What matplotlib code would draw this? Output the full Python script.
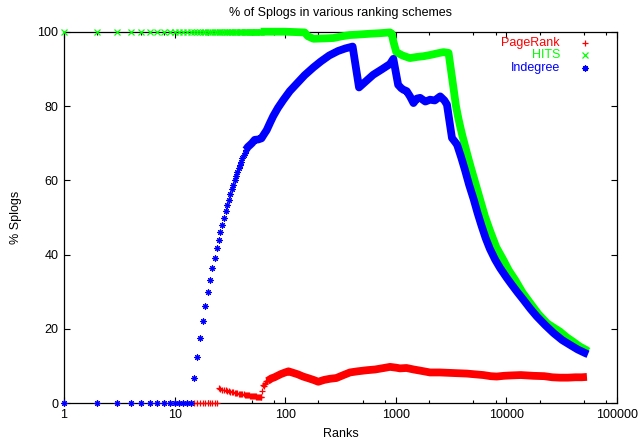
import matplotlib
matplotlib.use("Agg")
import matplotlib.pyplot as plt
from matplotlib.ticker import FixedLocator, NullFormatter

plt.rcParams['font.family'] = ['Liberation Sans', 'DejaVu Sans']

# ---------------- data ----------------
# PageRank: individual early ranks (markers) and dense sampled part
pr_early_rank = list(range(1, 70))
pr_early_val = [0.0] * 24 + [
    4.00, 3.85, 3.70, 3.57, 3.45, 3.33, 3.23, 3.13, 3.03, 2.94,
    2.86, 2.78, 2.70, 2.63, 2.56, 2.50, 2.44, 2.38, 2.33, 2.27,
    2.22, 2.17, 2.13, 2.08, 2.04, 2.00, 1.96, 1.92, 1.89, 1.85,
    1.82, 1.79, 1.75, 1.72, 1.69, 1.67, 1.64,
    3.2, 4.8, 4.7, 5.4, 5.3, 6.0, 5.9, 6.0]
pr_rank = [69, 75, 80, 85, 92, 100, 107, 118, 130, 145, 160, 180, 199, 225,
           254, 290, 330, 385, 450, 546, 650, 780, 887, 1000, 1090, 1250,
           1450, 1655, 2040, 2500, 3000, 3600, 4375, 5200, 6200, 7200, 8170,
           9500, 11000, 13500, 17500, 22000, 26000, 30500, 36000, 42000,
           48000, 53500]
pr_val = [6.0, 6.7, 7.0, 7.4, 7.9, 8.3, 8.6, 8.2, 7.8, 7.2, 6.8, 6.3, 5.8, 6.3,
          6.6, 6.8, 7.5, 8.3, 8.6, 8.9, 9.1, 9.5, 9.8, 9.6, 9.4, 9.5,
          9.1, 8.8, 8.3, 8.3, 8.2, 8.1, 8.0, 7.8, 7.6, 7.3, 7.2,
          7.4, 7.5, 7.6, 7.4, 7.3, 7.0, 6.9, 6.9, 7.0,
          7.0, 7.1]

# HITS
hits_early_rank = list(range(1, 61))
hits_early_val = [100.0] * 60
hits_rank = [60, 100, 150, 160, 180, 230, 273, 330, 385, 443, 550, 720, 886,
             920, 950, 1010, 1150, 1340, 1550, 1780, 2100, 2400, 2700, 3000,
             3300, 3500, 3660, 3820, 4000, 4250, 4520, 4800, 5100, 5450, 5800,
             6400, 7080, 8100, 9380, 10500, 12000, 14000, 16500, 19500, 23400,
             27000, 30500, 35000, 40000, 46000, 53000, 54700]
hits_val = [100.0, 100.0, 99.8, 98.8, 98.1, 98.2, 98.3, 98.8, 99.1, 99.2, 99.4,
            99.6, 99.8, 99.5, 97.4, 94.5, 93.6, 92.9, 93.2, 93.4, 93.8, 94.2,
            94.5, 94.3, 85.5, 80.0, 77.0, 74.5, 72.0, 69.0, 66.0, 63.2, 60.5,
            57.5, 54.7, 50.3, 46.6, 42.0, 38.6, 35.8, 33.2, 29.8, 26.9, 24.0,
            21.5, 20.3, 19.3, 17.8, 16.6, 15.3, 14.3, 14.0]

# Indegree
ind_early_rank = list(range(1, 45))
ind_early_val = [0.0] * 14 + [
    6.7, 12.5, 17.6, 22.2, 26.3, 30.0, 33.3, 36.4, 39.1, 41.7,
    44.0, 46.2, 48.1, 50.0, 51.7, 53.3, 54.8, 56.3, 57.6, 58.8,
    60.0, 61.1, 62.2, 63.2, 64.1, 65.0, 65.9, 66.7, 67.4, 68.2]
ind_rank = [44, 46, 48, 50, 53, 57, 61, 64, 68, 73, 78, 86, 96, 110, 127, 150,
            180, 210, 250, 300, 350, 407, 465, 520, 624, 750, 886, 950, 1050,
            1120, 1170, 1255, 1350, 1445, 1550, 1660, 1850, 2040, 2250, 2520,
            2750, 2900, 3070, 3220, 3440, 3580, 3900, 4220, 4600, 5060, 5500,
            5970, 6500, 7080, 7900, 8770, 10000, 11000, 12500, 14300, 16500,
            18800, 22500, 26700, 32000, 37700, 44000, 51700, 54700]
ind_val = [68.2, 69.0, 69.5, 70.0, 70.9, 71.0, 71.3, 72.3, 73.5, 75.5, 77.3,
           79.5, 81.6, 84.0, 86.0, 88.3, 90.4, 92.0, 93.6, 94.8, 95.5, 96.0,
           85.0, 86.3, 88.4, 89.9, 91.3, 92.7, 85.7, 84.8, 84.4, 84.0, 82.5,
           80.8, 82.0, 82.2, 81.2, 81.7, 81.5, 82.6, 81.5, 80.4, 75.5, 71.4,
           70.3, 69.6, 66.2, 62.8, 58.8, 54.9, 51.1, 47.7, 44.4, 41.6, 38.7,
           36.4, 33.9, 32.2, 30.0, 27.8, 25.4, 23.4, 21.0, 18.9, 17.0, 15.7,
           14.5, 13.5, 13.2]

labels = ["PageRank", "HITS", "Indegree"]
colors = ["#ff0000", "#00ff00", "#0000ff"]
x_ticks = [1, 10, 100, 1000, 10000, 100000]
y_ticks = [0, 20, 40, 60, 80, 100]

# ---------------- figure ----------------
fig = plt.figure(figsize=(6.41, 4.43), dpi=100)
ax = fig.add_axes([64 / 641, 1 - 403.3 / 443, 553 / 641, 371.6 / 443])

star = (8, 2, 0)
ms = 4.4
lw_band = 5.6
fs = 9

ax.plot(pr_early_rank, pr_early_val, ls='none', marker='+', ms=ms, mew=0.9,
        color=colors[0], clip_on=False, zorder=3)
ax.plot(pr_rank, pr_val, color=colors[0], lw=lw_band, solid_joinstyle='round',
        solid_capstyle='butt', zorder=3)

ax.plot(hits_early_rank, hits_early_val, ls='none', marker='x', ms=ms * 0.85,
        mew=0.9, color=colors[1], clip_on=False, zorder=4)
ax.plot(hits_rank, hits_val, color=colors[1], lw=lw_band, solid_joinstyle='round',
        solid_capstyle='butt', zorder=4, clip_on=False)

ax.plot(ind_early_rank, ind_early_val, ls='none', marker=star, ms=ms, mew=0.8,
        color=colors[2], clip_on=False, zorder=5)
ax.plot(ind_rank, ind_val, color=colors[2], lw=lw_band, solid_joinstyle='round',
        solid_capstyle='butt', zorder=5)

ax.set_xscale('log')
ax.set_xlim(1, 100000)
ax.set_ylim(0, 100)
ax.xaxis.set_major_locator(FixedLocator(x_ticks))
ax.set_xticklabels([str(t) for t in x_ticks])
minor = [m * 10 ** d for d in range(0, 5) for m in (2, 5, 8)]
ax.xaxis.set_minor_locator(FixedLocator(minor))
ax.xaxis.set_minor_formatter(NullFormatter())
ax.set_yticks(y_ticks)
ax.set_yticklabels([str(t) for t in y_ticks])

ax.tick_params(axis='both', which='major', direction='in', length=4.3,
               width=0.8, labelsize=fs, top=True, right=True, pad=4)
ax.tick_params(axis='both', which='minor', direction='in', length=2.3,
               width=0.8, top=True, right=True)
for s in ax.spines.values():
    s.set_linewidth(0.9)

ax.set_xlabel("Ranks", fontsize=fs, labelpad=5)
ax.set_ylabel("% Splogs", fontsize=fs, labelpad=11)
ax.set_title("% of Splogs in various ranking schemes", fontsize=fs, pad=11)

# legend (gnuplot style: right aligned text, sample marker on the right)
markers = ['+', 'x', star]
ys = [0.969, 0.937, 0.903]
for lab, col, mk, yy in zip(labels, colors, markers, ys):
    ax.text(0.897, yy, lab, color=col, ha='right', va='center', fontsize=fs,
            transform=ax.transAxes)
    ax.plot([0.942], [yy], ls='none', marker=mk, ms=ms, mew=0.9, color=col,
            transform=ax.transAxes, clip_on=False)

fig.savefig("out.png", dpi=100)
